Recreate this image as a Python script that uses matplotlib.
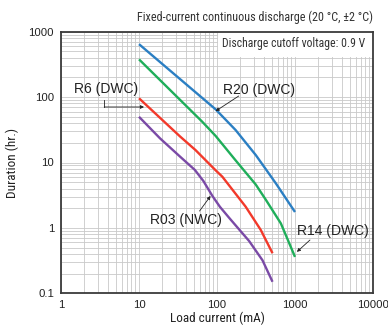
import matplotlib
matplotlib.use('Agg')
import matplotlib.pyplot as plt
from matplotlib.patches import Rectangle

# discharge curves (load current mA, duration hr)
r20_x = [10, 96, 173, 314, 568, 1000]
r20_y = [645, 65, 31.4, 13.0, 4.8, 1.75]

r14_x = [10, 64.7, 96, 173, 314, 422, 659, 783, 1000]
r14_y = [378, 42, 25.5, 10.8, 4.6, 2.7, 1.17, 0.72, 0.36]

r6_x = [10, 33.6, 53, 96, 117, 233, 364, 515]
r6_y = [96, 25, 15.5, 7.6, 6.07, 2.11, 0.93, 0.41]

r03_x = [10, 18.6, 33.6, 52, 67, 87, 109, 145, 258, 383, 515]
r03_y = [50, 23.4, 12.3, 7.7, 5.2, 3.1, 2.1, 1.4, 0.63, 0.32, 0.15]

xticks = [1, 10, 100, 1000, 10000]
xticklabels = ['1', '10', '100', '1000', '10000']
yticks = [0.1, 1, 10, 100, 1000]
yticklabels = ['0.1', '1', '10', '100', '1000']

cond = ['Roboto Condensed', 'DejaVu Sans']
plt.rcParams['font.family'] = ['Liberation Sans', 'DejaVu Sans']

fig = plt.figure(figsize=(3.88, 3.27), dpi=100)
ax = fig.add_axes([61 / 388, 1 - 293.3 / 327, 312 / 388, 261.6 / 327])

lw = 1.7
ax.plot(r20_x, r20_y, color='#2b7fc3', lw=lw, solid_capstyle='butt', solid_joinstyle='round', zorder=3)
ax.plot(r14_x, r14_y, color='#1fae5a', lw=lw, solid_capstyle='butt', solid_joinstyle='round', zorder=3)
ax.plot(r6_x, r6_y, color='#f2392a', lw=lw, solid_capstyle='butt', solid_joinstyle='round', zorder=3)
ax.plot(r03_x, r03_y, color='#7a4aa6', lw=lw, solid_capstyle='butt', solid_joinstyle='round', zorder=3)

ax.set_xscale('log')
ax.set_yscale('log')
ax.set_xlim(1, 10000)
ax.set_ylim(0.1, 1000)
ax.set_xticks(xticks)
ax.set_xticklabels(xticklabels)
ax.set_yticks(yticks)
ax.set_yticklabels(yticklabels)
ax.tick_params(which='both', length=0, labelsize=8.2, colors='#222222', pad=5)
ax.grid(True, which='both', color='#c9c9c9', lw=0.6, zorder=0)
for s in ax.spines.values():
    s.set_color('#3a3a3a')
    s.set_linewidth(1.3)
    s.set_zorder(6)

ax.set_xlabel('Load current (mA)', fontsize=9.5, family=cond, color='#222222', labelpad=1)
ax.set_ylabel('Duration (hr.)', fontsize=9.5, family=cond, color='#222222', labelpad=7)

ax.text(1.0, 1.03, 'Fixed-current continuous discharge (20 °C, ±2 °C)', transform=ax.transAxes,
        ha='right', va='bottom', fontsize=8.7, family=cond, color='#333333')
ax.add_patch(Rectangle((0.503, 0.903), 0.497, 0.097, transform=ax.transAxes,
                       facecolor='white', edgecolor='none', zorder=4))
ax.text(0.975, 0.955, 'Discharge cutoff voltage: 0.9 V', transform=ax.transAxes,
        ha='right', va='center', fontsize=8.5, family=cond, color='#333333', zorder=5)

lab = dict(fontsize=10, color='#222222', ha='center', va='center', zorder=6)
arr = dict(arrowstyle='-|>', color='#222222', lw=0.6, mutation_scale=5, shrinkA=0, shrinkB=0)

ax.text(343, 128, 'R20 (DWC)', **lab)
ax.annotate('', xy=(96, 61), xytext=(190, 104), arrowprops=arr)

ax.text(3.75, 135, 'R6 (DWC)', **lab)
ax.plot([3.58, 3.58], [90.4, 70.6], color='#222222', lw=0.6)
ax.annotate('', xy=(11.6, 70.6), xytext=(3.58, 70.6), arrowprops=arr)

ax.text(39.4, 1.32, 'R03 (NWC)', **lab)
ax.annotate('', xy=(82.7, 3.08), xytext=(59.7, 1.81), arrowprops=arr)

ax.text(3076, 0.898, 'R14 (DWC)', **lab)
ax.annotate('', xy=(1058, 0.43), xytext=(1556, 0.653), arrowprops=arr)

fig.savefig('out.png', dpi=100)
